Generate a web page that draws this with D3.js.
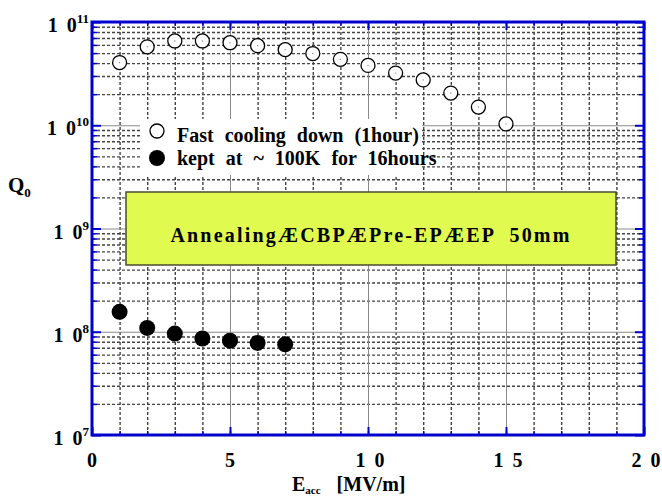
<!DOCTYPE html>
<html>
<head>
<meta charset="utf-8">
<script src="https://cdn.jsdelivr.net/npm/d3@7"></script>
<style>
  body { margin: 0; background: #fff; }
  svg { display: block; }
</style>
</head>
<body>
<svg width="662" height="496"></svg>
<script>
// data
const eFast = [1, 2, 3, 4, 5, 6, 7, 8, 9, 10, 11, 12, 13, 14, 15];
const q0Fast = [4.05e10, 5.75e10, 6.55e10, 6.55e10, 6.3e10, 5.9e10, 5.4e10, 4.95e10,
  4.35e10, 3.8e10, 3.2e10, 2.75e10, 2.05e10, 1.5e10, 1.03e10];
const eKept = [1, 2, 3, 4, 5, 6, 7];
const q0Kept = [1.56e8, 1.09e8, 9.6e7, 8.6e7, 8.2e7, 7.8e7, 7.55e7];

const xMajor = [0, 5, 10, 15, 20];
const xTickLabels = ['0', '5', '1 0', '1 5', '2 0'];
const yExponents = [7, 8, 9, 10, 11];
const legendLabels = ['Fast cooling down (1hour)', 'kept at ~ 100K for 16hours'];
const noteText = 'AnnealingÆCBPÆPre-EPÆEP  50mm';

// pick a serif face that is really installed
const ctx = document.createElement('canvas').getContext('2d');
const probe = 'Annealing cooling 1234567890 MWmw';
const widthOf = f => { ctx.font = `bold 40px ${f}`; return ctx.measureText(probe).width; };
const serifFace = ['Liberation Serif', 'DejaVu Serif', 'Noto Serif', 'Times New Roman', 'Times']
  .find(f => widthOf(`"${f}", monospace`) !== widthOf('monospace')) || 'serif';

const margin = { left: 92, right: 18, top: 22, bottom: 61 };
const svg = d3.select('svg')
  .attr('font-family', `"${serifFace}", serif`)
  .attr('font-weight', 'bold');
const width = +svg.attr('width');
const height = +svg.attr('height');
const innerWidth = width - margin.left - margin.right;
const innerHeight = height - margin.top - margin.bottom;
const blue = '#0000cc';

const g = svg.append('g')
  .attr('transform', `translate(${margin.left},${margin.top})`);

const xScale = d3.scaleLinear().domain([0, 20]).range([0, innerWidth]);
const yScale = d3.scaleLog().domain([1e7, 1e11]).range([innerHeight, 0]);

const xMinor = d3.range(1, 20).filter(v => v % 5 !== 0);
const xAll = d3.range(1, 20);
const yMajorInner = [1e8, 1e9, 1e10];
const yMinor = [];
yExponents.slice(0, -1).forEach(e => {
  for (let m = 2; m <= 9; m++) yMinor.push(m * Math.pow(10, e));
});

// grid
const cleanGrid = (sel, stroke, dash) => {
  sel.select('.domain').remove();
  sel.selectAll('.tick text').remove();
  sel.selectAll('.tick line')
    .attr('stroke', stroke)
    .attr('stroke-width', dash ? 1.4 : 1)
    .attr('stroke-dasharray', dash);
};

g.append('g')
  .attr('transform', `translate(0,${innerHeight})`)
  .call(d3.axisBottom(xScale).tickValues(xMinor).tickSize(-innerHeight).tickFormat(''))
  .call(cleanGrid, '#444', '3,2');

g.append('g')
  .call(d3.axisLeft(yScale).tickValues(yMinor).tickSize(-innerWidth).tickFormat(''))
  .call(cleanGrid, '#444', '3,2');

g.append('g')
  .attr('transform', `translate(0,${innerHeight})`)
  .call(d3.axisBottom(xScale).tickValues([5, 10, 15]).tickSize(-innerHeight).tickFormat(''))
  .call(cleanGrid, '#8a8a8a', null);

g.append('g')
  .call(d3.axisLeft(yScale).tickValues(yMajorInner).tickSize(-innerWidth).tickFormat(''))
  .call(cleanGrid, '#8a8a8a', null);

// legend (white box hides the grid)
const legend = g.append('g').attr('transform', 'translate(48,97)');
legend.append('rect')
  .attr('width', 282).attr('height', 56)
  .attr('fill', '#fff');

legend.append('circle')
  .attr('cx', 17).attr('cy', 12).attr('r', 7)
  .attr('fill', '#fff').attr('stroke', '#000').attr('stroke-width', 1.3);
legend.append('circle')
  .attr('cx', 17).attr('cy', 39).attr('r', 8)
  .attr('fill', '#000');

legend.selectAll('text.leg')
  .data(legendLabels)
  .enter().append('text')
  .attr('class', 'leg')
  .attr('x', 37)
  .attr('y', (d, i) => 23 + i * 23)
  .attr('font-size', 20)
  .attr('word-spacing', 6)
  .text(d => d);

// note box
const note = g.append('g').attr('transform', 'translate(34,170)');
note.append('rect')
  .attr('width', 490).attr('height', 73)
  .attr('fill', '#e1fa50')
  .attr('stroke', '#4a4a30').attr('stroke-width', 1.5);
note.append('text')
  .attr('x', 245).attr('y', 50)
  .attr('text-anchor', 'middle')
  .attr('font-size', 20)
  .attr('letter-spacing', 2.2)
  .style('white-space', 'pre')
  .text(noteText);

// data points
const fastData = eFast.map((e, i) => ({ e, q: q0Fast[i] }));
g.selectAll('circle.fast')
  .data(fastData)
  .enter().append('circle')
  .attr('class', 'fast')
  .attr('cx', d => xScale(d.e))
  .attr('cy', d => yScale(d.q))
  .attr('r', 7)
  .attr('fill', '#fff')
  .attr('stroke', '#000')
  .attr('stroke-width', 1.3);

g.selectAll('circle.fastdot')
  .data(fastData)
  .enter().append('circle')
  .attr('class', 'fastdot')
  .attr('cx', d => xScale(d.e))
  .attr('cy', d => yScale(d.q))
  .attr('r', 0.7)
  .attr('fill', '#888');

g.selectAll('circle.kept')
  .data(eKept.map((e, i) => ({ e, q: q0Kept[i] })))
  .enter().append('circle')
  .attr('class', 'kept')
  .attr('cx', d => xScale(d.e))
  .attr('cy', d => yScale(d.q))
  .attr('r', 8)
  .attr('fill', '#000');

// blue inner ticks on all four sides
const blueTicks = (sel, w) => {
  sel.select('.domain').remove();
  sel.selectAll('.tick text').remove();
  sel.selectAll('.tick line').attr('stroke', blue).attr('stroke-width', w);
};
const yMajor = yExponents.map(e => Math.pow(10, e));

g.append('g').call(d3.axisLeft(yScale).tickValues(yMinor).tickSize(-5).tickFormat('')).call(blueTicks, 1.5);
g.append('g').call(d3.axisLeft(yScale).tickValues(yMajor).tickSize(-9).tickFormat('')).call(blueTicks, 2);
g.append('g').attr('transform', `translate(${innerWidth},0)`)
  .call(d3.axisRight(yScale).tickValues(yMinor).tickSize(-5).tickFormat('')).call(blueTicks, 1.5);
g.append('g').attr('transform', `translate(${innerWidth},0)`)
  .call(d3.axisRight(yScale).tickValues(yMajor).tickSize(-9).tickFormat('')).call(blueTicks, 2);
g.append('g')
  .call(d3.axisTop(xScale).tickValues(xAll).tickSize(-4).tickFormat('')).call(blueTicks, 1.5);
g.append('g')
  .call(d3.axisTop(xScale).tickValues(xMajor).tickSize(-8).tickFormat('')).call(blueTicks, 2);
g.append('g').attr('transform', `translate(0,${innerHeight})`)
  .call(d3.axisBottom(xScale).tickValues(xAll).tickSize(-4).tickFormat('')).call(blueTicks, 1.5);
g.append('g').attr('transform', `translate(0,${innerHeight})`)
  .call(d3.axisBottom(xScale).tickValues(xMajor).tickSize(-8).tickFormat('')).call(blueTicks, 2);

g.append('rect')
  .attr('width', innerWidth).attr('height', innerHeight)
  .attr('fill', 'none')
  .attr('stroke', blue).attr('stroke-width', 3);

// tick labels
g.selectAll('text.xlab')
  .data(xMajor)
  .enter().append('text')
  .attr('class', 'xlab')
  .attr('x', d => xScale(d) + (d >= 10 ? 2 : 0))
  .attr('y', innerHeight + 32)
  .attr('text-anchor', 'middle')
  .attr('font-size', 20)
  .attr('word-spacing', 4)
  .style('white-space', 'pre')
  .text((d, i) => xTickLabels[i]);

const ylab = g.selectAll('text.ylab')
  .data(yExponents)
  .enter().append('text')
  .attr('class', 'ylab')
  .attr('x', -3)
  .attr('y', d => yScale(Math.pow(10, d)) + 10)
  .attr('text-anchor', 'end')
  .attr('font-size', 20);
ylab.append('tspan').attr('word-spacing', 4).text('1 0');
ylab.append('tspan')
  .attr('dy', -9)
  .attr('font-size', 13)
  .text(d => d);

// axis titles
const yTitle = svg.append('text')
  .attr('x', 8).attr('y', 192)
  .attr('font-size', 21);
yTitle.append('tspan').text('Q');
yTitle.append('tspan').attr('dy', 5).attr('font-size', 13).text('0');

const xTitle = svg.append('text')
  .attr('x', 292).attr('y', 491)
  .attr('font-size', 20);
xTitle.append('tspan').text('E');
xTitle.append('tspan').attr('dy', 3).attr('font-size', 11).text('acc');
xTitle.append('tspan').attr('dy', -3).attr('dx', 16).text('[MV/m]');
</script>
</body>
</html>
